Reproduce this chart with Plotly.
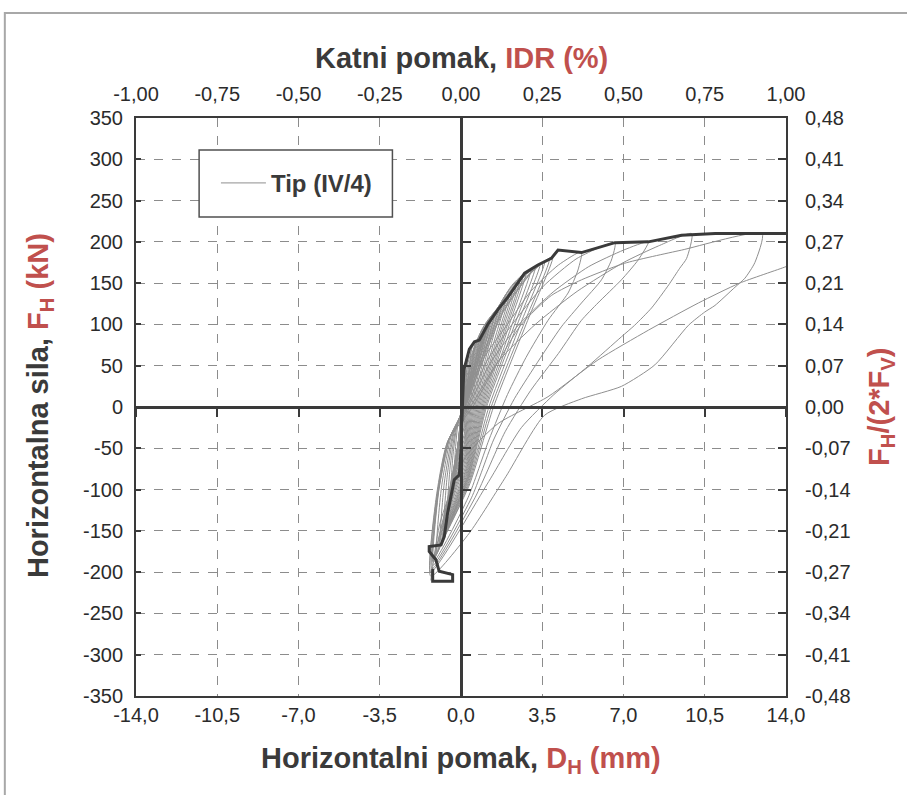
import plotly.graph_objects as go

# ---------------- tick labels / axis text ----------------
x_tick_vals = [-14.0, -10.5, -7.0, -3.5, 0.0, 3.5, 7.0, 10.5, 14.0]
x_tick_text = ["-14,0", "-10,5", "-7,0", "-3,5", "0,0", "3,5", "7,0", "10,5", "14,0"]
top_tick_vals = [-1.0, -0.75, -0.5, -0.25, 0.0, 0.25, 0.5, 0.75, 1.0]
top_tick_text = ["-1,00", "-0,75", "-0,50", "-0,25", "0,00", "0,25", "0,50", "0,75", "1,00"]
y_tick_vals = [-350, -300, -250, -200, -150, -100, -50, 0, 50, 100, 150, 200, 250, 300, 350]
y_tick_text = ["-350", "-300", "-250", "-200", "-150", "-100", "-50", "0",
               "50", "100", "150", "200", "250", "300", "350"]
right_tick_text = ["-0,48", "-0,41", "-0,34", "-0,27", "-0,21", "-0,14", "-0,07", "0,00",
                   "0,07", "0,14", "0,21", "0,27", "0,34", "0,41", "0,48"]
series_name = "Tip (IV/4)"

# ---------------- envelope (thick line) ----------------
env_d = [-1.22, -1.22, -0.36, -0.36, -0.94, -1.08, -1.37, -1.37, -0.86, -0.72, -0.58, -0.43,
         -0.29, -0.07, 0.0, 0.07, 0.12, 0.22, 0.36, 0.58, 0.79, 1.15, 1.59, 2.02, 2.45, 2.74,
         3.31, 3.89, 4.18, 5.19, 6.63, 8.07, 9.5, 10.95, 14.0]
env_f = [-196, -211, -211, -203, -199, -185, -175, -169, -167, -157, -129, -109,
         -88, -82, -52, 8, 45, 55, 70, 79, 81, 100, 118, 133, 150, 162,
         172, 180, 190, 187, 199, 200, 208, 210, 210]

# ---------------- hysteresis loops (thin lines) ----------------
s01_d = [-0.05, -0.03, 0.0, 0.05, 0.09, 0.16, 0.2, 0.16, 0.1, 0.12, -0.03, -0.05]
s01_f = [-30, -19.5, -5, 0, 28, 40, 45, 27, 0, -15, -25.5, -30]
s02_d = [-0.1, -0.06, 0.0, 0.06, 0.14, 0.23, 0.3, 0.24, 0.15, 0.13, -0.06, -0.1]
s02_f = [-50, -32.5, -8, 0, 40, 58.5, 65, 39, 0, -25, -42.5, -50]
s03_d = [-0.15, -0.08, -0.01, 0.06, 0.2, 0.35, 0.45, 0.35, 0.2, 0.14, -0.09, -0.15]
s03_f = [-65, -42, -10, 0, 46.5, 67.5, 75, 45, 0, -32.5, -55, -65]
s04_d = [-0.2, -0.11, -0.02, 0.07, 0.27, 0.47, 0.6, 0.46, 0.25, 0.15, -0.12, -0.2]
s04_f = [-75, -49, -12, 0, 49, 71, 79, 47, 0, -37.5, -64, -75]
s05_d = [-0.25, -0.14, -0.02, 0.07, 0.36, 0.62, 0.8, 0.6, 0.3, 0.16, -0.15, -0.25]
s05_f = [-85, -55, -14, 0, 53, 77, 86, 52, 0, -42.5, -72, -85]
s06_d = [-0.3, -0.24, -0.12, 0.08, 0.45, 0.78, 1.0, 0.74, 0.35, 0.17, -0.18, -0.3]
s06_f = [-92, -51, -18, 0, 60, 87, 97, 58, 0, -46, -78, -92]
s07_d = [-0.35, -0.19, -0.02, 0.08, 0.52, 0.9, 1.15, 0.85, 0.4, 0.18, -0.21, -0.35]
s07_f = [-100, -65, -16, 0, 64, 94, 104, 62, 0, -50, -85, -100]
s08_d = [-0.4, -0.22, -0.02, 0.09, 0.58, 1.01, 1.3, 0.96, 0.45, 0.19, -0.24, -0.4]
s08_f = [-108, -70, -17, 0, 68, 99, 110, 66, 0, -54, -92, -108]
s09_d = [-0.45, -0.36, -0.18, 0.09, 0.65, 1.13, 1.45, 1.07, 0.5, 0.2, -0.27, -0.45]
s09_f = [-115, -63, -23, 0, 71, 103, 115, 69, 0, -57.5, -98, -115]
s10_d = [-0.5, -0.27, -0.02, 0.1, 0.72, 1.25, 1.6, 1.18, 0.55, 0.21, -0.3, -0.5]
s10_f = [-122, -79, -20, 0, 74, 108, 120, 72, 0, -61, -104, -122]
s11_d = [-0.55, -0.3, -0.02, 0.1, 0.79, 1.37, 1.75, 1.29, 0.6, 0.22, -0.33, -0.55]
s11_f = [-130, -84, -21, 0, 77, 112, 125, 75, 0, -65, -110, -130]
s12_d = [-0.6, -0.48, -0.24, 0.1, 0.86, 1.48, 1.9, 1.4, 0.65, 0.23, -0.36, -0.6]
s12_f = [-138, -76, -28, 0, 80, 116, 129, 77, 0, -69, -117, -138]
s13_d = [-0.65, -0.36, -0.02, 0.11, 0.92, 1.6, 2.05, 1.51, 0.7, 0.24, -0.39, -0.65]
s13_f = [-145, -94, -23, 0, 83, 121, 134, 80, 0, -72.5, -123, -145]
s14_d = [-0.7, -0.38, -0.02, 0.11, 0.99, 1.72, 2.2, 1.62, 0.75, 0.25, -0.42, -0.7]
s14_f = [-150, -97, -24, 0, 87, 126, 140, 84, 0, -75, -128, -150]
s15_d = [-0.75, -0.6, -0.3, 0.12, 1.06, 1.83, 2.35, 1.73, 0.8, 0.26, -0.45, -0.75]
s15_f = [-155, -85, -31, 0, 90, 131, 146, 88, 0, -77.5, -132, -155]
s16_d = [-0.8, -0.44, -0.02, 0.12, 1.13, 1.95, 2.5, 1.84, 0.85, 0.27, -0.48, -0.8]
s16_f = [-160, -104, -26, 0, 94, 137, 152, 91, 0, -80, -136, -160]
s17_d = [-0.85, -0.47, -0.02, 0.13, 1.19, 2.07, 2.65, 1.95, 0.9, 0.28, -0.51, -0.85]
s17_f = [-165, -107, -26, 0, 98, 142, 158, 95, 0, -82.5, -140, -165]
s18_d = [-0.9, -0.72, -0.36, 0.13, 1.26, 2.18, 2.8, 2.06, 0.95, 0.29, -0.54, -0.9]
s18_f = [-168, -92, -34, 0, 101, 147, 163, 98, 0, -84, -143, -168]
s19_d = [-0.95, -0.52, -0.02, 0.14, 1.35, 2.34, 3.0, 2.2, 1.0, 0.3, -0.57, -0.95]
s19_f = [-171, -111, -27, 0, 103, 149, 166, 100, 0, -85.5, -145, -171]
s20_d = [-1.0, -0.55, -0.02, 0.14, 1.44, 2.5, 3.2, 2.34, 1.05, 0.31, -0.6, -1.0]
s20_f = [-174, -113, -28, 0, 105, 153, 170, 102, 0, -87, -148, -174]
s21_d = [-1.05, -0.84, -0.42, 0.15, 1.53, 2.65, 3.4, 2.48, 1.1, 0.32, -0.63, -1.05]
s21_f = [-177, -97, -35, 0, 107, 156, 173, 104, 0, -88.5, -150, -177]
s22_d = [-1.1, -0.6, -0.02, 0.15, 1.62, 2.81, 3.6, 2.64, 1.2, 0.34, -0.66, -1.1]
s22_f = [-180, -117, -29, 0, 109, 158, 176, 106, 0, -90, -153, -180]
s23_d = [-1.15, -0.63, -0.02, 0.15, 1.71, 2.96, 3.8, 2.8, 1.3, 0.36, -0.69, -1.15]
s23_f = [-183, -119, -29, 0, 111, 161, 179, 107, 0, -91.5, -156, -183]
s24_d = [-1.2, -0.96, -0.48, 0.16, 1.78, 3.08, 3.95, 2.93, 1.4, 0.38, -0.72, -1.2]
s24_f = [-186, -102, -37, 0, 113, 164, 182, 109, 0, -93, -158, -186]
l01_d = [-1.2, -0.98, -0.5, 0.2, 1.0, 2.0, 3.0, 4.2, 5.19, 5.04, 4.61, 3.75, 2.8, 2.0, 1.2, 0.3, -1.2]
l01_f = [-188, -104, -38, 0, 60, 100, 140, 172, 188, 166, 138, 105, 60, 15, -40, -110, -188]
l02_d = [-1.22, -1.0, -0.52, 0.25, 1.1, 2.2, 3.5, 5.0, 6.63, 6.48, 6.05, 5.19, 4.32, 3.2, 2.3, 1.4, 0.45, -1.22]
l02_f = [-192, -106, -39, 0, 55, 100, 145, 180, 199, 178, 154, 126, 97, 50, 10, -40, -110, -192]
l03_d = [-1.25, -1.02, -0.54, 0.3, 1.3, 2.5, 4.0, 5.5, 7.0, 8.07, 7.63, 6.91, 5.9, 5.19, 4.2, 3.0, 1.9, 0.6, -1.25]
l03_f = [-196, -108, -40, 0, 55, 100, 140, 170, 190, 200, 178, 154, 126, 105, 65, 20, -30, -110, -196]
l04_d = [-1.3, -1.05, -0.56, 0.4, 1.6, 3.2, 5.0, 7.0, 8.5, 9.94, 9.72, 9.42, 8.95, 8.21, 7.48, 6.91, 5.5,
         4.0, 2.6, 1.2, -1.3]
l04_f = [-200, -110, -41, 0, 55, 100, 140, 175, 195, 210, 180, 168, 148, 120, 99, 85, 50,
         15, -25, -90, -200]
l05_d = [-1.3, -1.08, -0.58, 0.5, 1.5, 2.6, 3.89, 5.19, 7.04, 9.5, 12.97, 12.66, 12.23, 11.8, 10.94, 10.5,
         9.8, 8.35, 6.91, 5.2, 3.6, 1.94, 0.35, -1.3]
l05_f = [-205, -112, -42, 0, 50, 100, 135, 154, 174, 190, 210, 175, 156, 145, 123, 115,
         99, 51, 25, 10, -10, -84, -153, -205]
l06_d = [-1.3, -0.9, 0.2, 1.6, 3.75, 5.9, 8.07, 10.23, 12.0, 14.0, 14.5]
l06_f = [-210, -140, -60, -20, 12.5, 57, 93, 126, 150, 170, 176]

loops = [
    (s01_d, s01_f), (s02_d, s02_f), (s03_d, s03_f), (s04_d, s04_f), (s05_d, s05_f),
    (s06_d, s06_f), (s07_d, s07_f), (s08_d, s08_f), (s09_d, s09_f), (s10_d, s10_f),
    (s11_d, s11_f), (s12_d, s12_f), (s13_d, s13_f), (s14_d, s14_f), (s15_d, s15_f),
    (s16_d, s16_f), (s17_d, s17_f), (s18_d, s18_f), (s19_d, s19_f), (s20_d, s20_f),
    (s21_d, s21_f), (s22_d, s22_f), (s23_d, s23_f), (s24_d, s24_f),
    (l01_d, l01_f), (l02_d, l02_f), (l03_d, l03_f), (l04_d, l04_f), (l05_d, l05_f),
    (l06_d, l06_f),
]

DARK = "#3a3a3a"
RED = "#c0504d"
GRID = "#8c8c8c"
THIN = "#8f8f8f"
FONT = "Liberation Sans, Arial, sans-serif"

fig = go.Figure()

for i, (dd, ff) in enumerate(loops):
    fig.add_trace(go.Scatter(
        x=dd, y=ff, mode="lines", name=series_name,
        line=dict(color=THIN, width=1, shape="spline", smoothing=0.6),
        showlegend=(i == 0), legendgroup="tip", hoverinfo="skip",
    ))

fig.add_trace(go.Scatter(
    x=env_d, y=env_f, mode="lines", showlegend=False,
    line=dict(color=DARK, width=3), hoverinfo="skip",
))

# empty traces so the secondary and zero-crossing axes get drawn
fig.add_trace(go.Scatter(x=[None], y=[None], xaxis="x2", yaxis="y2", showlegend=False, hoverinfo="skip"))
fig.add_trace(go.Scatter(x=[None], y=[None], xaxis="x3", yaxis="y3", showlegend=False, hoverinfo="skip"))

tick_font = dict(family=FONT, size=20, color="#2b2b2b")
title_font = dict(family=FONT, size=29, color=DARK, weight="bold")

fig.update_layout(
    width=907, height=795,
    margin=dict(l=136, r=121, t=118, b=99, autoexpand=False),
    paper_bgcolor="white", plot_bgcolor="white",
    font=dict(family=FONT, color=DARK),
    xaxis=dict(
        range=[-14, 14], tickvals=x_tick_vals, ticktext=x_tick_text, automargin=False,
        showgrid=True, gridcolor=GRID, griddash="dash", gridwidth=1,
        zeroline=False, showline=True, mirror=True, linecolor=DARK, linewidth=2,
        ticks="", tickfont=tick_font, ticklabelstandoff=0,
    ),
    yaxis=dict(
        range=[-350, 350], tickvals=y_tick_vals, ticktext=y_tick_text, automargin=False,
        showgrid=True, gridcolor=GRID, griddash="dash", gridwidth=1,
        zeroline=False, showline=True, mirror=True, linecolor=DARK, linewidth=2,
        ticks="inside", ticklen=5, tickwidth=1.5, tickcolor=DARK,
        tickfont=tick_font, ticklabelstandoff=7,
    ),
    xaxis2=dict(
        overlaying="x", side="top", anchor="y2", range=[-1, 1], automargin=False,
        tickvals=top_tick_vals, ticktext=top_tick_text,
        showgrid=False, zeroline=False, showline=False, ticks="",
        tickfont=tick_font, ticklabelstandoff=12,
    ),
    yaxis2=dict(
        overlaying="y", side="right", anchor="x2", range=[-350, 350], automargin=False,
        tickvals=y_tick_vals, ticktext=right_tick_text,
        showgrid=False, zeroline=False, showline=False,
        ticks="inside", ticklen=8, tickwidth=2, tickcolor=DARK,
        tickfont=tick_font, ticklabelstandoff=18,
    ),
    xaxis3=dict(
        overlaying="x", anchor="free", position=0.5, range=[-14, 14], tickvals=x_tick_vals,
        showticklabels=False, showgrid=False, zeroline=False, automargin=False,
        showline=True, linecolor=DARK, linewidth=2.5,
        ticks="outside", ticklen=8, tickwidth=2, tickcolor=DARK,
    ),
    yaxis3=dict(
        overlaying="y", anchor="free", position=0.5, range=[-350, 350], tickvals=y_tick_vals,
        showticklabels=False, showgrid=False, zeroline=False, automargin=False,
        showline=True, linecolor=DARK, linewidth=2.5,
        ticks="inside", ticklen=8, tickwidth=2, tickcolor=DARK,
    ),
    legend=dict(
        x=0.123, y=0.887, xanchor="left", yanchor="middle",
        bgcolor="rgba(0,0,0,0)", borderwidth=0,
        font=dict(family=FONT, size=24, color=DARK, weight="bold"),
        itemwidth=45,
    ),
    showlegend=True,
)

# legend frame and outer chart frame
fig.add_shape(type="rect", xref="paper", yref="paper", x0=0.0971, x1=0.3945, y0=0.8287, y1=0.9446,
              line=dict(color="#505050", width=1.5), fillcolor="white", layer="above")
fig.add_shape(type="rect", xref="paper", yref="paper", x0=-0.2018, x1=1.4, y0=-0.4, y1=1.1817,
              line=dict(color="#a8a8a8", width=2), fillcolor="rgba(0,0,0,0)", layer="below")

# axis titles
fig.add_annotation(xref="paper", yref="paper", x=0.5, y=1.1038, showarrow=False,
                   xanchor="center", yanchor="middle", font=title_font,
                   text="Katni pomak, <span style='color:%s'>IDR (%%)</span>" % RED)
fig.add_annotation(xref="paper", yref="paper", x=0.5, y=-0.1107, showarrow=False,
                   xanchor="center", yanchor="middle", font=title_font,
                   text="Horizontalni pomak, <span style='color:%s'>D<sub>H</sub> (mm)</span>" % RED)
fig.add_annotation(xref="paper", yref="paper", x=-0.148, y=0.503, showarrow=False, textangle=-90,
                   xanchor="center", yanchor="middle", font=title_font,
                   text="Horizontalna sila, <span style='color:%s'>F<sub>H</sub> (kN)</span>" % RED)
fig.add_annotation(xref="paper", yref="paper", x=1.146, y=0.50, showarrow=False, textangle=-90,
                   xanchor="center", yanchor="middle",
                   font=dict(family=FONT, size=29, color=RED, weight="bold"),
                   text="F<sub>H</sub>/(2*F<sub>V</sub>)")

fig.write_html(
    "out.html",
    config={"displayModeBar": False},
    post_script="document.body.style.margin='0px'; document.body.style.overflow='hidden';",
)
